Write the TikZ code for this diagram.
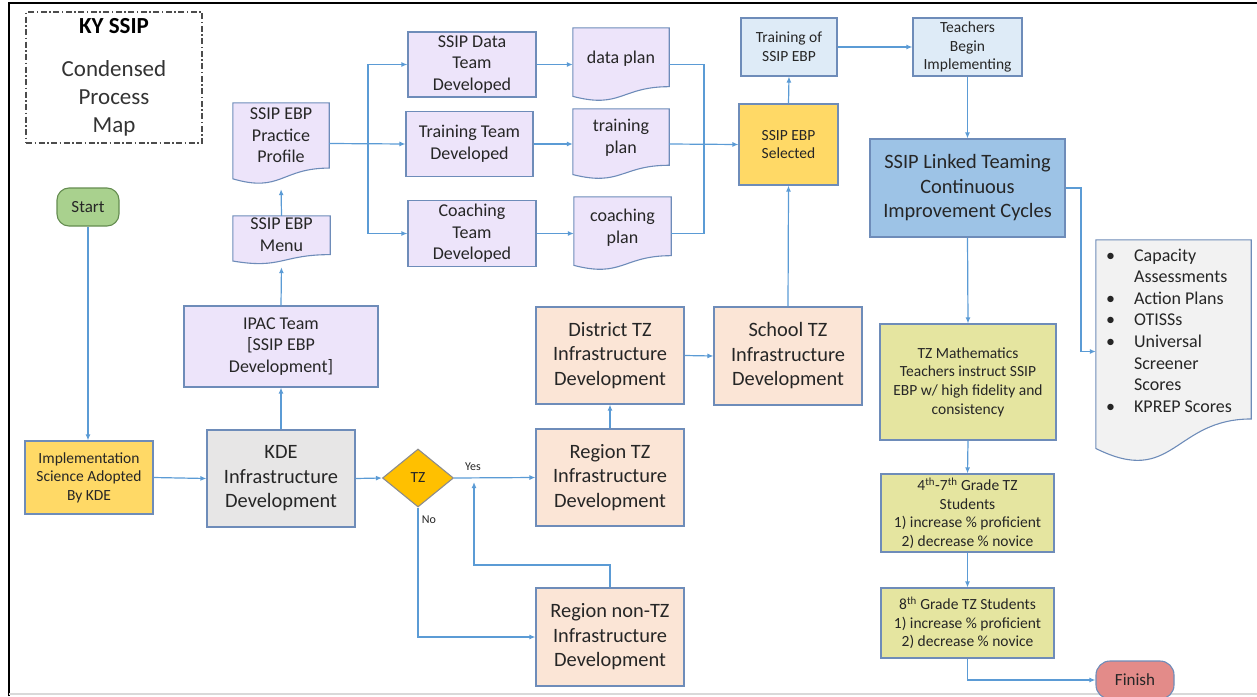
\documentclass[tikz,border=0pt]{standalone}
\usepackage{fontspec}
\setmainfont{Carlito}
\usetikzlibrary{arrows.meta,shapes.geometric,calc}
\pgfdeclarelayer{bg}
\pgfsetlayers{bg,main}
\definecolor{bordc}{RGB}{110,140,185}
\definecolor{arrc}{RGB}{91,155,213}
\definecolor{lav}{RGB}{237,228,250}
\definecolor{peach}{RGB}{251,229,214}
\definecolor{kgray}{RGB}{231,230,230}
\definecolor{ylw}{RGB}{255,217,102}
\definecolor{lblue}{RGB}{222,235,247}
\definecolor{mblue}{RGB}{157,195,230}
\definecolor{tzgreen}{RGB}{229,229,160}
\definecolor{startg}{RGB}{169,209,142}
\definecolor{startd}{RGB}{100,140,80}
\definecolor{finr}{RGB}{227,139,137}
\definecolor{listg}{RGB}{242,242,242}
\definecolor{diam}{RGB}{255,192,0}
\definecolor{txt}{RGB}{38,38,38}
\newcommand\myfT{\fontsize{23}{28}\selectfont}
\newcommand\myfL{\fontsize{20.4}{24.5}\selectfont}
\newcommand\myfM{\fontsize{18}{21.6}\selectfont}
\newcommand\myfS{\fontsize{15.5}{18.6}\selectfont}
\newcommand\myfX{\fontsize{12}{14}\selectfont}
\newcommand\docoutline[2]{%
\begin{pgfonlayer}{bg}
\path[draw=bordc, line width=1.1pt, fill=#2] let \p1=(#1.north west), \p2=(#1.south east) in
 (\x1,\y1) -- (\x2,\y1) -- (\x2,{\y1+0.802*(\y2-\y1)})
 .. controls ({0.5*(\x1+\x2)},{\y1+0.802*(\y2-\y1)}) and ({0.5*(\x1+\x2)},{\y1+1.1075*(\y2-\y1)}) ..
 (\x1,{\y1+0.934*(\y2-\y1)}) -- cycle;
\end{pgfonlayer}}
\begin{document}
\begin{tikzpicture}[x=1pt,y=-1pt,
  box/.style={draw=bordc, line width=1.1pt, align=center, inner sep=0pt, text=txt},
  docnode/.style={inner sep=0pt},
  doclab/.style={align=center, inner sep=0pt, text=txt},
  arr/.style={draw=arrc, line width=1.2pt, -{Latex[length=6pt,width=5pt]}},
  ln/.style={draw=arrc, line width=1.2pt},
  lbl/.style={font=\myfX, text=txt, inner sep=0pt}]
\useasboundingbox (0,0) rectangle (1257,696);
\clip (0,0) rectangle (1257,696);
% frame
\draw[black, line width=2pt] (9,696) -- (9,3) -- (1257,3);
\draw[black!15, line width=1.5pt] (9,694) -- (1257,694);

% title
\node[draw=black!70, dash pattern=on 6pt off 2.5pt on 1.5pt off 2.5pt, line width=1.2pt,
  minimum width=176pt, minimum height=131pt, inner sep=0pt, align=center, font=\myfT, text=black!80]
  (title) at (114,77.5) {\textcolor{black}{\textbf{KY SSIP}}\\[15pt]Condensed\\Process\\Map};

% left column
\node[box, draw=startd, fill=startg, rounded corners=12pt, minimum width=62pt, minimum height=38pt, font=\fontsize{17}{20}\selectfont] (start) at (88,207) {Start};
\node[box, fill=ylw, minimum width=128pt, minimum height=73pt, font=\myfS] (impl) at (89,477.5) {Implementation\\Science Adopted\\By KDE};
\node[box, fill=kgray, minimum width=148pt, minimum height=97pt, font=\myfL] (kde) at (281,478.5) {KDE\\Infrastructure\\Development};
\node[box, fill=lav, minimum width=194pt, minimum height=81pt, font=\myfM] (ipac) at (281,346.5) {IPAC Team\\{[}SSIP EBP\\Development{]}};

% document shapes
\node[docnode, minimum width=97pt, minimum height=48pt,
  label={[doclab, font=\myfM, yshift=5pt]center:{SSIP EBP\\Menu}}] (menu) at (281.5,240) {};
\docoutline{menu}{lav}
\node[docnode, minimum width=96pt, minimum height=81pt,
  label={[doclab, font=\myfM, yshift=8pt]center:{SSIP EBP\\Practice\\Profile}}] (prof) at (281,143.5) {};
\docoutline{prof}{lav}

% teams
\node[box, fill=lav, minimum width=128pt, minimum height=65pt, font=\myfM] (dataT) at (472,64.5) {SSIP Data\\Team\\Developed};
\node[box, fill=lav, minimum width=127pt, minimum height=65pt, font=\myfM] (trainT) at (469.5,144) {Training Team\\Developed};
\node[box, fill=lav, minimum width=128pt, minimum height=66pt, font=\myfM] (coachT) at (472,233.5) {Coaching\\Team\\Developed};

% plans
\node[docnode, minimum width=96pt, minimum height=73pt,
  label={[doclab, font=\myfM, yshift=6pt]center:{data plan}}] (dataP) at (621,64.5) {};
\docoutline{dataP}{lav}
\node[docnode, minimum width=96pt, minimum height=70pt,
  label={[doclab, font=\myfM, yshift=6pt]center:{training\\plan}}] (trainP) at (621,144) {};
\docoutline{trainP}{lav}
\node[docnode, minimum width=97pt, minimum height=73pt,
  label={[doclab, font=\myfM, yshift=6pt]center:{coaching\\plan}}] (coachP) at (622.5,233.5) {};
\docoutline{coachP}{lav}

% selected etc.
\node[box, fill=ylw, minimum width=99pt, minimum height=81pt, font=\myfS] (sel) at (788.5,144.5) {SSIP EBP\\Selected};
\node[box, fill=lblue, minimum width=96pt, minimum height=58pt, font=\myfS] (trof) at (789,47) {Training of\\SSIP EBP};
\node[box, fill=lblue, minimum width=109pt, minimum height=58pt, font=\myfS] (teach) at (967.5,47) {Teachers\\Begin\\Implementing};
\node[box, fill=mblue, minimum width=195pt, minimum height=98pt, font=\myfL] (link) at (967.5,188) {SSIP Linked Teaming\\Continuous\\Improvement Cycles};

% list doc
\node[docnode, minimum width=155pt, minimum height=223pt,
  label={[doclab, align=left, font=\myfM, xshift=-4.5pt, yshift=21pt]center:{%
  \makebox[28pt][l]{•}Capacity\\\makebox[28pt]{}Assessments\\\makebox[28pt][l]{•}Action Plans\\%
  \makebox[28pt][l]{•}OTISSs\\\makebox[28pt][l]{•}Universal\\\makebox[28pt]{}Screener\\%
  \makebox[28pt]{}Scores\\\makebox[28pt][l]{•}KPREP Scores}}] (list) at (1173.5,351.5) {};
\docoutline{list}{listg}

% right column
\node[box, fill=tzgreen, minimum width=176pt, minimum height=116pt, font=\myfS] (tzm) at (968,382) {TZ Mathematics\\Teachers instruct SSIP\\EBP w/ high fidelity and\\consistency};
\node[box, fill=tzgreen, minimum width=173pt, minimum height=78pt, font=\myfS] (g47) at (967.5,513) {4\textsuperscript{th}-7\textsuperscript{th} Grade TZ\\Students\\1) increase \% proficient\\2) decrease \% novice};
\node[box, fill=tzgreen, minimum width=173pt, minimum height=70pt, font=\myfS] (g8) at (967.5,623) {8\textsuperscript{th} Grade TZ Students\\1) increase \% proficient\\2) decrease \% novice};
\node[box, fill=finr, rounded corners=14pt, minimum width=78pt, minimum height=38pt, font=\fontsize{17}{20}\selectfont] (fin) at (1135,680) {Finish};

% TZ decision and regions
\node[diamond, draw=black!45, line width=1.1pt, fill=diam, minimum width=71pt, minimum height=58pt, inner sep=0pt, font=\myfS, text=txt] (tz) at (418,478) {TZ};
\node[box, fill=peach, minimum width=148pt, minimum height=97pt, font=\myfL] (regTZ) at (610,477.5) {Region TZ\\Infrastructure\\Development};
\node[box, fill=peach, minimum width=148pt, minimum height=97pt, font=\myfL] (dist) at (610,355.5) {District TZ\\Infrastructure\\Development};
\node[box, fill=peach, minimum width=148pt, minimum height=98pt, font=\myfL] (nontz) at (610,637) {Region non-TZ\\Infrastructure\\Development};
\node[box, fill=peach, minimum width=148pt, minimum height=98pt, font=\myfL] (school) at (788,356) {School TZ\\Infrastructure\\Development};
\node[lbl] (yes) at (473,467) {Yes};
\node[lbl] (no) at (429,520) {No};

% helper coordinates
\coordinate (br) at (368,144);
\coordinate (mg) at (704,144);
\coordinate (lk) at (1081,188);
\coordinate (turn) at (610,565);
\coordinate (yesin) at (474,482);

% connectors
\draw[arr] (start.south) -- (start.south |- impl.north);
\draw[arr] (impl.east) -- (kde.west);
\draw[arr] (kde.north) -- (ipac.south);
\draw[arr, shorten >=3pt] (ipac.north) -- (menu.south);
\draw[arr, shorten >=5pt] (menu.north) -- (prof.south);
\draw[arr] (prof.east) -- (trainT.west);
\draw[arr] (br) |- (dataT.west);
\draw[arr] (br) |- (coachT.west);
\draw[arr] (dataT.east) -- (dataP.west);
\draw[arr] (trainT.east) -- (trainP.west);
\draw[arr] (coachT.east) -- (coachP.west);
\draw[ln] (dataP.east) -| (mg);
\draw[ln] (coachP.east) -| (mg);
\draw[arr] (trainP.east) -- (sel.west);
\draw[arr] (sel.north) -- (trof.south);
\draw[arr] (trof.east) -- (teach.west);
\draw[arr] (teach.south) -- (link.north);
\draw[arr] (link.east) -- (lk) |- (list.west);
\draw[arr] (link.south) -- (tzm.north);
\draw[arr] (tzm.south) -- (g47.north);
\draw[arr] (g47.south) -- (g8.north);
\draw[arr] (g8.south) |- (fin.west);
\draw[arr] (kde.east) -- (tz.west);
\draw[arr] (tz.east) -- (regTZ.west);
\draw[arr] (tz.south) |- (nontz.west);
\draw[arr] (regTZ.north) -- (dist.south);
\draw[arr] (dist.east) -- (school.west);
\draw[arr] (school.north) -- (sel.south);
\draw[arr] (nontz.north) -- (turn) -| (yesin);
\end{tikzpicture}
\end{document}
